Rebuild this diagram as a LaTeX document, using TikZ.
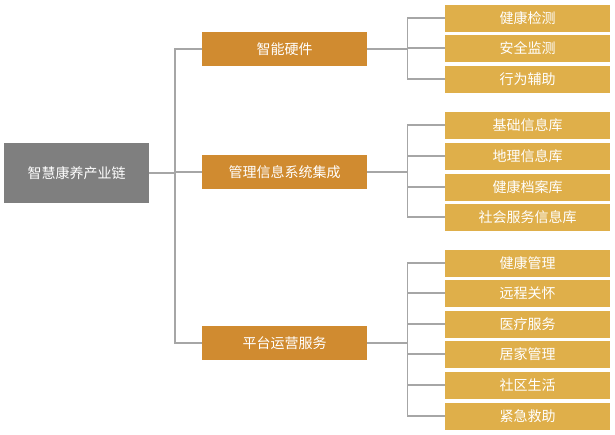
\documentclass[tikz,border=0pt]{standalone}
\usepackage{fontspec}
\setmainfont{Noto Sans CJK SC}
\usetikzlibrary{calc}
\begin{document}
\begin{tikzpicture}[x=1pt,y=-1pt,
  rootbox/.style={fill=rootc,text=white,minimum width=145pt,minimum height=60pt,inner sep=0pt,font=\fontsize{14}{16}\selectfont},
  midbox/.style={fill=midc,text=white,minimum width=165pt,minimum height=34pt,inner sep=0pt,font=\fontsize{14}{16}\selectfont},
  leafbox/.style={fill=leafc,text=white,minimum width=165pt,minimum height=27pt,inner sep=0pt,font=\fontsize{14}{16}\selectfont},
  conn/.style={draw=linec,line width=1.2pt}]
\definecolor{rootc}{HTML}{7F7F7F}
\definecolor{midc}{HTML}{D08B30}
\definecolor{leafc}{HTML}{DFAF4A}
\definecolor{linec}{HTML}{A6A6A6}
\useasboundingbox (0,0) rectangle (615,434);
\node[rootbox] (r) at (76.5,173) {智慧康养产业链};
\node[midbox] (m1) at (284.5,49) {智能硬件};
\node[midbox] (m2) at (284.5,172) {管理信息系统集成};
\node[midbox] (m3) at (284.5,343) {平台运营服务};
\foreach \n/\y/\t in {a1/18/健康检测,a2/48/安全监测,a3/79/行为辅助,
  b1/125/基础信息库,b2/156/地理信息库,b3/187/健康档案库,b4/217/社会服务信息库,
  c1/263/健康管理,c2/293/远程关怀,c3/324/医疗服务,c4/354/居家管理,c5/385/社区生活,c6/416/紧急救助}
  \node[leafbox] (\n) at (527.5,\y) {\t};
\coordinate (j0) at (175,173);
\draw[conn] (r.east) -- (j0);
\foreach \m in {m1,m2,m3} \draw[conn] (j0) |- (\m.west);
\foreach \m/\ls in {m1/{a1,a2,a3},m2/{b1,b2,b3,b4},m3/{c1,c2,c3,c4,c5,c6}}{
  \coordinate (j\m) at ($(\m.east)+(40,0)$);
  \draw[conn] (\m.east) -- (j\m);
  \foreach \l in \ls \draw[conn] (j\m) |- (\l.west);
}
\end{tikzpicture}
\end{document}
